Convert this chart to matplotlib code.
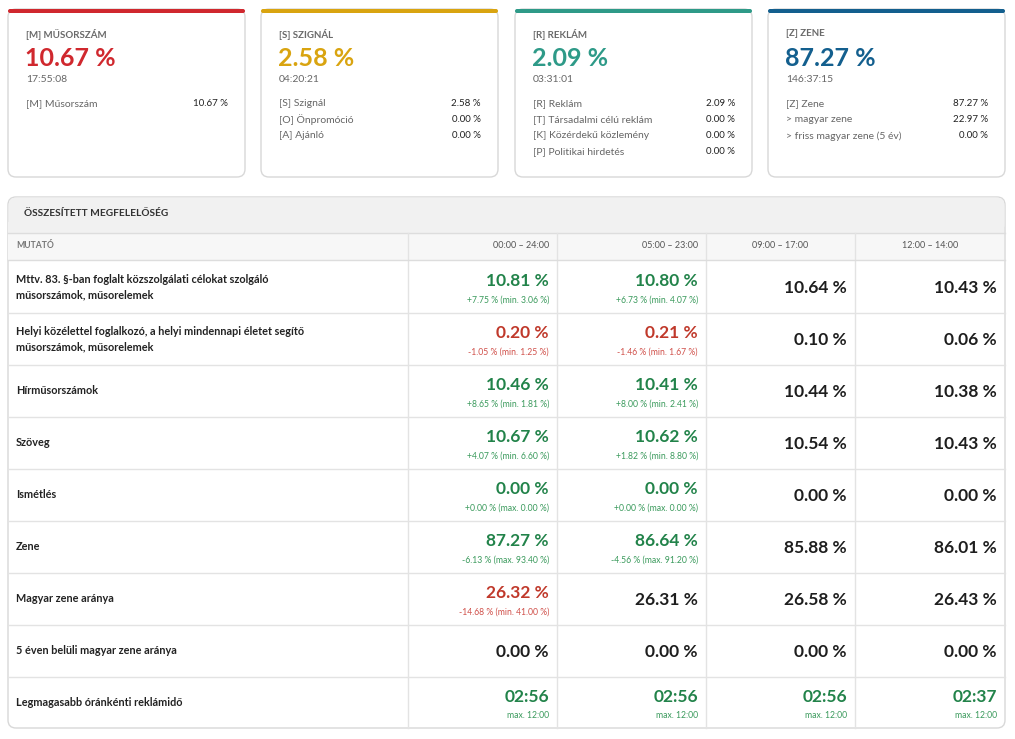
import matplotlib.pyplot as plt
from matplotlib.patches import FancyBboxPatch, Rectangle

plt.rcParams['font.family'] = ['Lato', 'DejaVu Sans']

# kártyák adatai
card_titles = ['[M] MŰSORSZÁM', '[S] SZIGNÁL', '[R] REKLÁM', '[Z] ZENE']
card_values = ['10.67 %', '2.58 %', '2.09 %', '87.27 %']
card_times = ['17:55:08', '04:20:21', '03:31:01', '146:37:15']
card_colors = ['#d0282e', '#d9a410', '#2e9a88', '#135f8e']
card_rows = [
    [('[M] Műsorszám', '10.67 %')],
    [('[S] Szignál', '2.58 %'), ('[O] Önpromóció', '0.00 %'), ('[A] Ajánló', '0.00 %')],
    [('[R] Reklám', '2.09 %'), ('[T] Társadalmi célú reklám', '0.00 %'),
     ('[K] Közérdekű közlemény', '0.00 %'), ('[P] Politikai hirdetés', '0.00 %')],
    [('[Z] Zene', '87.27 %'), ('> magyar zene', '22.97 %'), ('> friss magyar zene (5 év)', '0.00 %')],
]

# táblázat adatai
columns = ['00:00 – 24:00', '05:00 – 23:00', '09:00 – 17:00', '12:00 – 14:00']
row_labels = [
    'Mttv. 83. §-ban foglalt közszolgálati célokat szolgáló\nműsorszámok, műsorelemek',
    'Helyi közélettel foglalkozó, a helyi mindennapi életet segítő\nműsorszámok, műsorelemek',
    'Hírműsorszámok', 'Szöveg', 'Ismétlés', 'Zene', 'Magyar zene aránya',
    '5 éven belüli magyar zene aránya', 'Legmagasabb óránkénti reklámidő',
]
values = [
    ['10.81 %', '10.80 %', '10.64 %', '10.43 %'],
    ['0.20 %', '0.21 %', '0.10 %', '0.06 %'],
    ['10.46 %', '10.41 %', '10.44 %', '10.38 %'],
    ['10.67 %', '10.62 %', '10.54 %', '10.43 %'],
    ['0.00 %', '0.00 %', '0.00 %', '0.00 %'],
    ['87.27 %', '86.64 %', '85.88 %', '86.01 %'],
    ['26.32 %', '26.31 %', '26.58 %', '26.43 %'],
    ['0.00 %', '0.00 %', '0.00 %', '0.00 %'],
    ['02:56', '02:56', '02:56', '02:37'],
]
subs = [
    ['+7.75 % (min. 3.06 %)', '+6.73 % (min. 4.07 %)', '', ''],
    ['-1.05 % (min. 1.25 %)', '-1.46 % (min. 1.67 %)', '', ''],
    ['+8.65 % (min. 1.81 %)', '+8.00 % (min. 2.41 %)', '', ''],
    ['+4.07 % (min. 6.60 %)', '+1.82 % (min. 8.80 %)', '', ''],
    ['+0.00 % (max. 0.00 %)', '+0.00 % (max. 0.00 %)', '', ''],
    ['-6.13 % (max. 93.40 %)', '-4.56 % (max. 91.20 %)', '', ''],
    ['-14.68 % (min. 41.00 %)', '', '', ''],
    ['', '', '', ''],
    ['max. 12:00', 'max. 12:00', 'max. 12:00', 'max. 12:00'],
]
# g = zöld, r = piros, d = sötét
status = ['ggdd', 'rrdd', 'ggdd', 'ggdd', 'ggdd', 'ggdd', 'rddd', 'dddd', 'gggg']
palette = {'g': '#22834a', 'r': '#c0392b', 'd': '#1e1e1e'}
sub_palette = {'g': '#3a9a5c', 'r': '#d0504a', 'd': '#222222'}

W, H = 1015, 739
fig = plt.figure(figsize=(W / 100, H / 100), dpi=100)
ax = fig.add_axes([0, 0, 1, 1])
ax.set_xlim(0, W)
ax.set_ylim(H, 0)
ax.axis('off')

grey = '#666666'
card_x = [8, 261, 515, 768]
for i, x0 in enumerate(card_x):
    ax.add_patch(FancyBboxPatch((x0, 9), 237, 168, boxstyle='round,pad=0,rounding_size=8',
                                fc='white', ec='#d8d8d8', lw=1))
    ax.add_patch(FancyBboxPatch((x0, 9), 237, 4, boxstyle='round,pad=0,rounding_size=2',
                                fc=card_colors[i], ec='none'))
    tx = x0 + 18
    ax.text(tx, 34, card_titles[i], fontsize=7, fontweight='bold', color='#6a6a6a', va='center')
    ax.text(tx - 1, 58, card_values[i], fontsize=18, fontweight='bold', color=card_colors[i], va='center')
    ax.text(tx, 80, card_times[i], fontsize=7.5, color=grey, va='center')
    for j, (lab, val) in enumerate(card_rows[i]):
        y = 104 + 16 * j
        ax.text(tx, y, lab, fontsize=7.5, color=grey, va='center')
        ax.text(x0 + 220, y, val, fontsize=7, color='#222222', va='center', ha='right')

# táblázat
tx0, tx1, ty0, ty1 = 8, 1005, 197, 728
ax.add_patch(FancyBboxPatch((tx0, ty0), tx1 - tx0, ty1 - ty0, boxstyle='round,pad=0,rounding_size=8',
                            fc='white', ec='#d8d8d8', lw=1))
ax.add_patch(FancyBboxPatch((tx0 + 0.5, ty0 + 0.5), tx1 - tx0 - 1, 35, boxstyle='round,pad=0,rounding_size=8',
                            fc='#f1f1f1', ec='none'))
ax.add_patch(Rectangle((tx0 + 0.5, 222), tx1 - tx0 - 1, 11, fc='#f1f1f1', ec='none'))
ax.plot([tx0, tx1], [233, 233], color='#dddddd', lw=1)
ax.text(24, 214, 'ÖSSZESÍTETT MEGFELELŐSÉG', fontsize=7.3, fontweight='bold', color='#333333', va='center')

col_x = [408, 557, 706, 855, 1005]
ax.add_patch(Rectangle((tx0 + 0.5, 233), tx1 - tx0 - 1, 27, fc='#f7f7f7', ec='none'))
ax.text(16, 246, 'MUTATÓ', fontsize=6.2, fontweight='bold', color='#777777', va='center')
for k, c in enumerate(columns):
    ax.text(col_x[k + 1] - 8 if k < 2 else (col_x[k] + col_x[k + 1]) / 2, 246, c,
            fontsize=6.5, color='#555555', va='center', ha='right' if k < 2 else 'center')
for cx in col_x[:-1]:
    ax.plot([cx, cx], [233, ty1], color='#e3e3e3', lw=1)
ax.plot([tx0, tx1], [260, 260], color='#dddddd', lw=1)

for r, lab in enumerate(row_labels):
    top = 261 + 52 * r
    yc = top + 26
    if r < len(row_labels) - 1:
        ax.plot([tx0, tx1], [top + 52, top + 52], color='#e3e3e3', lw=1)
    ax.text(16, yc, lab, fontsize=7.8, fontweight='bold', color='#222222', va='center', linespacing=1.45)
    for k in range(4):
        st = status[r][k]
        xr = col_x[k + 1] - 8
        if subs[r][k]:
            ax.text(xr, yc - 6, values[r][k], fontsize=12.5, fontweight='bold', color=palette[st],
                    va='center', ha='right')
            ax.text(xr, yc + 13, subs[r][k], fontsize=6.2, color=sub_palette[st], va='center', ha='right')
        else:
            ax.text(xr, yc + 1, values[r][k], fontsize=12.5, fontweight='bold', color=palette[st],
                    va='center', ha='right')

fig.savefig('out.png', dpi=100)
